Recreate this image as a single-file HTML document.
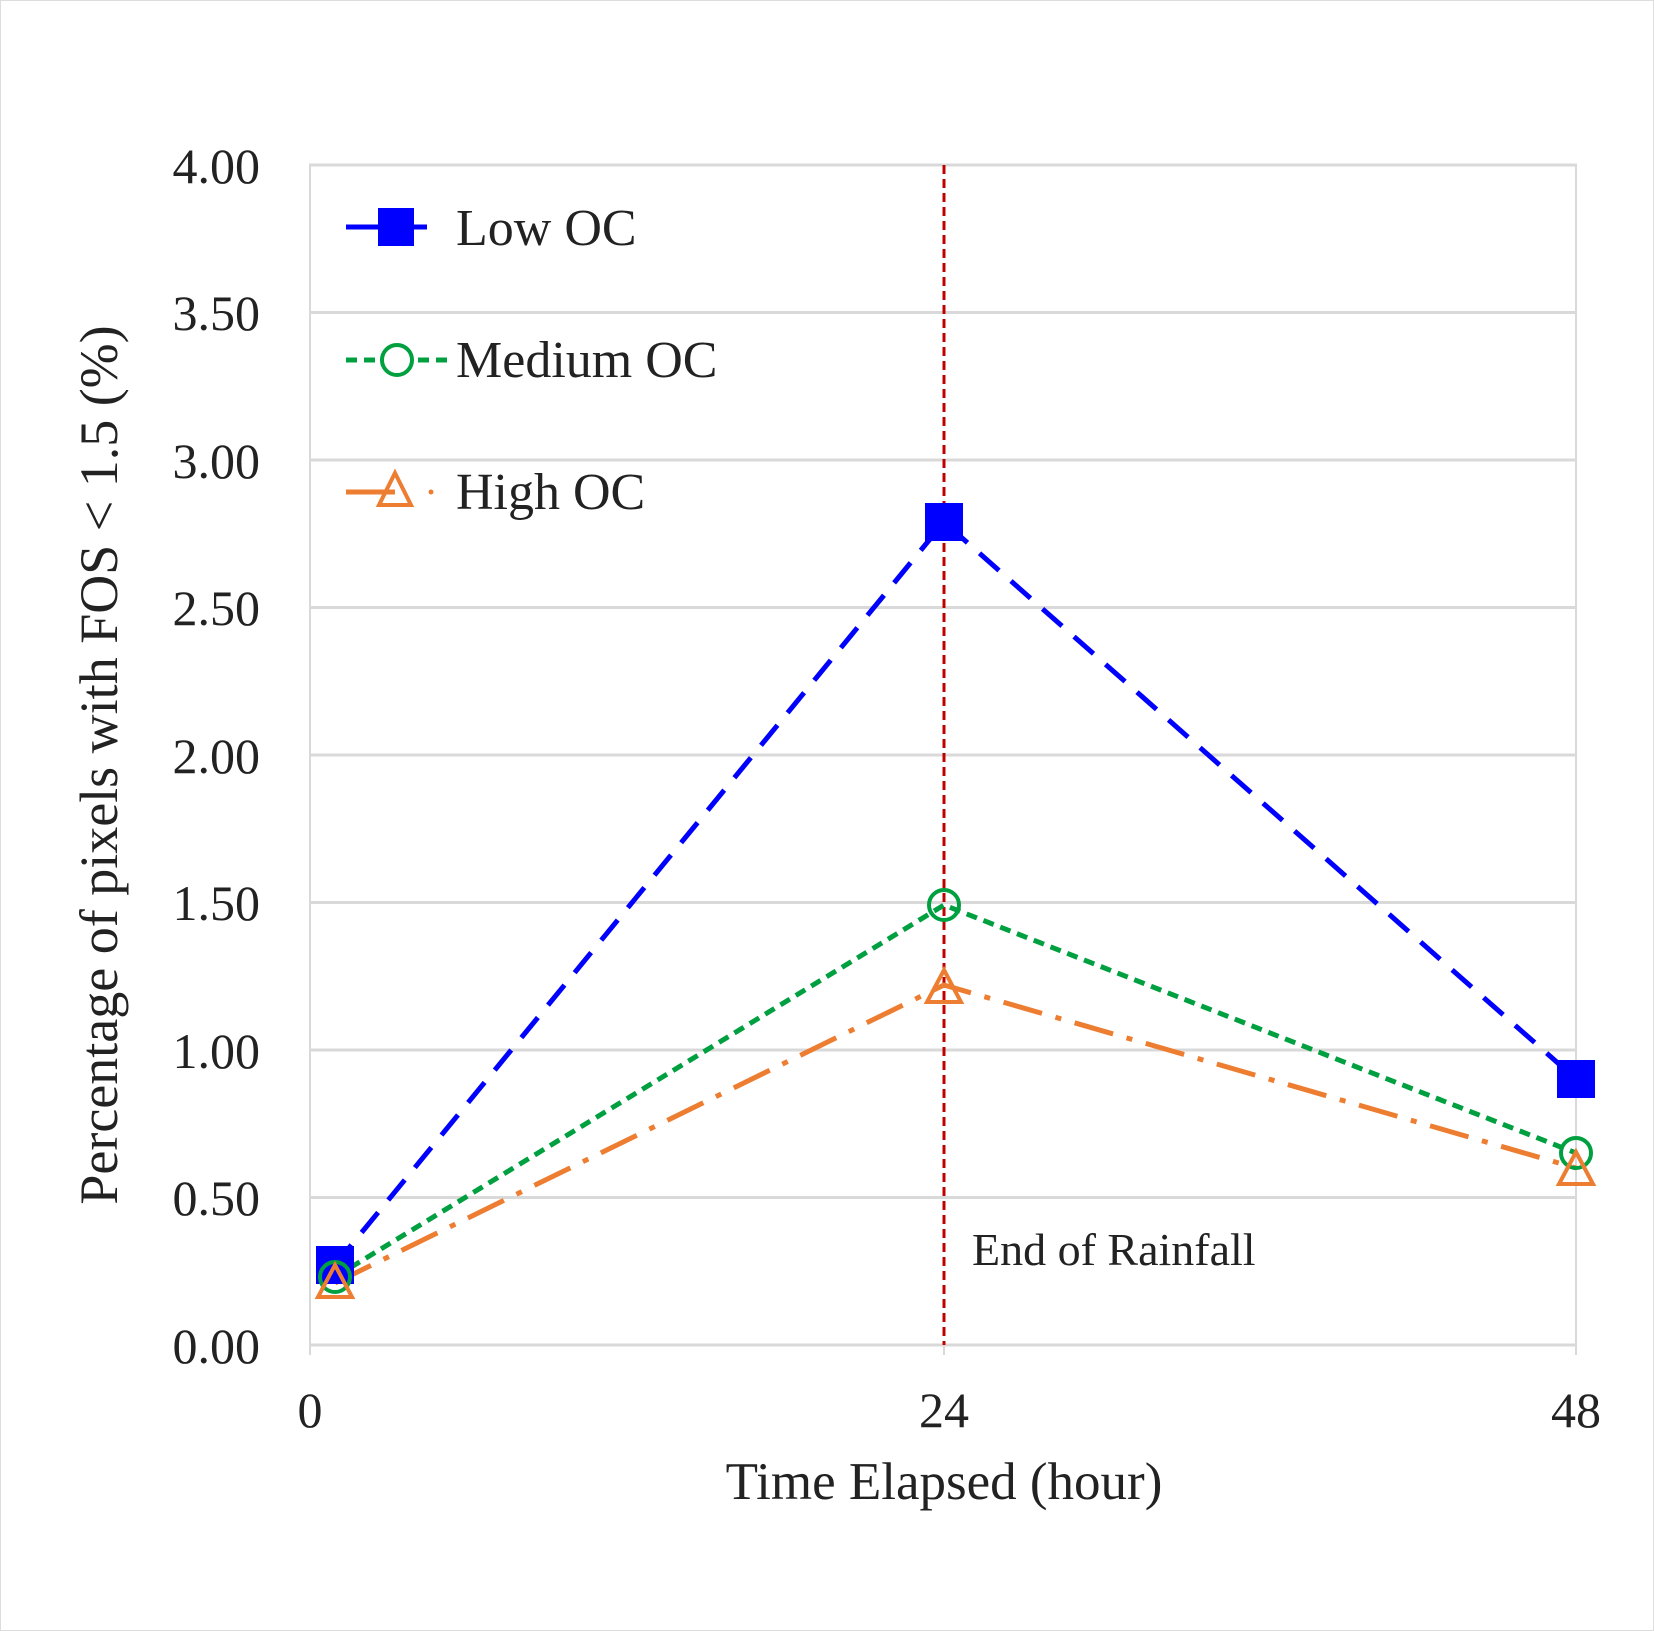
<!DOCTYPE html>
<html><head><style>body{margin:0;background:#fff}svg{display:block}</style></head><body>
<svg width="1654" height="1631" xmlns="http://www.w3.org/2000/svg" font-family="Liberation Serif, serif">
<rect x="0.5" y="0.5" width="1653" height="1630" fill="#fff" stroke="#ddd"/>
<g stroke="#d9d9d9" stroke-width="3">
<line x1="309" y1="165" x2="1577" y2="165"/>
<line x1="309" y1="312.5" x2="1577" y2="312.5"/>
<line x1="309" y1="460" x2="1577" y2="460"/>
<line x1="309" y1="607.5" x2="1577" y2="607.5"/>
<line x1="309" y1="755" x2="1577" y2="755"/>
<line x1="309" y1="902.5" x2="1577" y2="902.5"/>
<line x1="309" y1="1050" x2="1577" y2="1050"/>
<line x1="309" y1="1197.5" x2="1577" y2="1197.5"/>
<line x1="309" y1="1345" x2="1577" y2="1345"/>
<line x1="310" y1="165" x2="310" y2="1355" stroke-width="2"/>
<line x1="1576" y1="165" x2="1576" y2="1355" stroke-width="2"/>
<line x1="944" y1="1345" x2="944" y2="1355" stroke-width="2"/>
</g>
<g font-size="50" fill="#222" text-anchor="end">
<text x="260" y="183">4.00</text><text x="260" y="330">3.50</text><text x="260" y="478">3.00</text>
<text x="260" y="625">2.50</text><text x="260" y="773">2.00</text><text x="260" y="920">1.50</text>
<text x="260" y="1068">1.00</text><text x="260" y="1215">0.50</text><text x="260" y="1363">0.00</text>
</g>
<g font-size="50" fill="#222" text-anchor="middle">
<text x="310" y="1427">0</text><text x="944" y="1427">24</text><text x="1576" y="1427">48</text>
<text x="944" y="1499" font-size="53">Time Elapsed (hour)</text>
<text transform="translate(117,765) rotate(-90)" font-size="54">Percentage of pixels with FOS &lt; 1.5 (%)</text>
</g>
<line x1="944" y1="165" x2="944" y2="1345" stroke="#c00000" stroke-width="3" stroke-dasharray="9,5"/>
<text x="972" y="1265" font-size="46" fill="#222">End of Rainfall</text>
<polyline points="335,1265 944,522 1576,1079" fill="none" stroke="#0000ff" stroke-width="5" stroke-dasharray="26,16"/>
<polyline points="335,1277 944,905 1576,1153" fill="none" stroke="#00a040" stroke-width="5" stroke-dasharray="11,7"/>
<polyline points="335,1283 944,985 1576,1168" fill="none" stroke="#ed7d31" stroke-width="5" stroke-dasharray="40,14,6,14"/>
<g fill="#0000ff"><rect x="316" y="1246" width="38" height="38"/><rect x="925" y="503" width="38" height="38"/><rect x="1557" y="1060" width="38" height="38"/></g>
<g fill="none" stroke="#00a040" stroke-width="4"><circle cx="335" cy="1277" r="15"/><circle cx="944" cy="905" r="15"/><circle cx="1576" cy="1153" r="15"/></g>
<g fill="none" stroke="#ed7d31" stroke-width="4"><path d="M335,1265 L352,1297 L318,1297Z"/><path d="M944,970 L961,1002 L927,1002Z"/><path d="M1576,1152 L1593,1184 L1559,1184Z"/></g>
<line x1="346" y1="227" x2="427" y2="227" stroke="#0000ff" stroke-width="5"/>
<rect x="378" y="208" width="36" height="38" fill="#0000ff"/>
<line x1="346" y1="360" x2="448" y2="360" stroke="#00a040" stroke-width="5" stroke-dasharray="11,7"/>
<circle cx="397" cy="360" r="15" fill="#fff" stroke="#00a040" stroke-width="4"/>
<line x1="346" y1="492" x2="395" y2="492" stroke="#ed7d31" stroke-width="5"/>
<circle cx="431" cy="492" r="2.5" fill="#ed7d31"/>
<path d="M395,473 L411,505 L379,505Z" fill="none" stroke="#ed7d31" stroke-width="4"/>
<g font-size="52" fill="#222"><text x="456" y="245">Low OC</text><text x="456" y="377">Medium OC</text><text x="456" y="509">High OC</text></g>
</svg>
</body></html>
